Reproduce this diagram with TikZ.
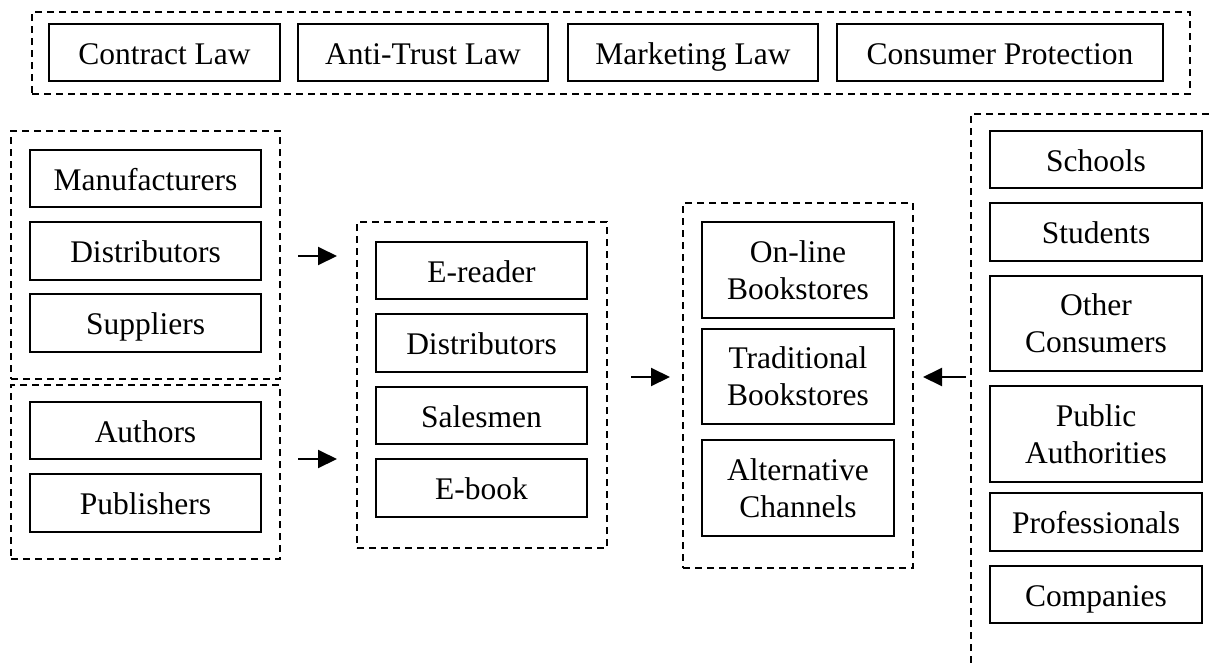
\documentclass[tikz,border=0pt]{standalone}
\usepackage{fontspec}
\setmainfont{Liberation Serif}
\usetikzlibrary{arrows.meta}
\begin{document}
\begin{tikzpicture}[x=1pt,y=-1pt,
  box/.style={draw, line width=1.6pt, align=center, inner sep=0pt,
    font=\fontsize{31.5}{37}\selectfont},
  oneline/.style={box, text height=30pt, text depth=7pt},
  grp/.style={draw, line width=1.6pt, dash pattern=on 7pt off 5pt, inner sep=0pt},
  arr/.style={line width=2pt, -{Triangle[length=19pt,width=18pt]}}]
\useasboundingbox[fill=white] (0,0) rectangle (1209,664);

% legal framework
\node[grp, minimum width=1158pt, minimum height=82pt] (law) at (611,53) {};
\node[oneline, minimum width=231pt, minimum height=57pt] (contract) at (164.5,52.5) {Contract Law};
\node[oneline, minimum width=250pt, minimum height=57pt] (antitrust) at (423,52.5) {Anti-Trust Law};
\node[oneline, minimum width=250pt, minimum height=57pt] (marketing) at (693,52.5) {Marketing Law};
\node[oneline, minimum width=326pt, minimum height=57pt] (consumer) at (1000,52.5) {Consumer Protection};

% supply side
\node[grp, minimum width=269pt, minimum height=248pt] (supply) at (145.5,255) {};
\node[oneline, minimum width=231pt, minimum height=57pt] (manuf) at (145.5,178.5) {Manufacturers};
\node[oneline, minimum width=231pt, minimum height=58pt] (distA) at (145.5,251) {Distributors};
\node[oneline, minimum width=231pt, minimum height=58pt] (suppl) at (145.5,323) {Suppliers};

\node[grp, minimum width=269pt, minimum height=174pt] (content) at (145.5,472) {};
\node[oneline, minimum width=231pt, minimum height=57pt] (authors) at (145.5,430.5) {Authors};
\node[oneline, minimum width=231pt, minimum height=58pt] (publ) at (145.5,503) {Publishers};

% intermediaries
\node[grp, minimum width=250pt, minimum height=326pt] (inter) at (482,385) {};
\node[oneline, minimum width=211pt, minimum height=57pt] (ereader) at (481.5,270.5) {E-reader};
\node[oneline, minimum width=211pt, minimum height=58pt] (distB) at (481.5,343) {Distributors};
\node[oneline, minimum width=211pt, minimum height=57pt] (sales) at (481.5,415.5) {Salesmen};
\node[oneline, minimum width=211pt, minimum height=58pt] (ebook) at (481.5,488) {E-book};

% retail channels
\node[grp, minimum width=230pt, minimum height=365pt] (retail) at (798,385.5) {};
\node[box, minimum width=192pt, minimum height=96pt] (online) at (798,270) {On-line\\Bookstores};
\node[box, minimum width=192pt, minimum height=95pt] (trad) at (798,376.5) {Traditional\\Bookstores};
\node[box, minimum width=192pt, minimum height=96pt] (alt) at (798,488) {Alternative\\Channels};

% customers
\coordinate (custTR) at (1209,114);
\coordinate (custTL) at (971,114);
\coordinate (custBL) at (971,664);
\draw[grp] (custTR) -- (custTL) -- (custBL);
\node[oneline, minimum width=212pt, minimum height=57pt] (schools) at (1096,159.5) {Schools};
\node[oneline, minimum width=212pt, minimum height=58pt] (students) at (1096,232) {Students};
\node[box, minimum width=212pt, minimum height=95pt] (other) at (1096,323.5) {Other\\Consumers};
\node[box, minimum width=212pt, minimum height=96pt] (public) at (1096,434) {Public\\Authorities};
\node[oneline, minimum width=212pt, minimum height=58pt] (prof) at (1096,522) {Professionals};
\node[oneline, minimum width=212pt, minimum height=57pt] (comp) at (1096,594.5) {Companies};

% flows
\coordinate (a1s) at (298,256);  \coordinate (a1e) at (337,256);
\coordinate (a2s) at (298,459);  \coordinate (a2e) at (337,459);
\coordinate (a3s) at (631,377);  \coordinate (a3e) at (670,377);
\coordinate (a4s) at (966,377);  \coordinate (a4e) at (923,377);
\draw[arr] (a1s) -- (a1e);
\draw[arr] (a2s) -- (a2e);
\draw[arr] (a3s) -- (a3e);
\draw[arr] (a4s) -- (a4e);
\end{tikzpicture}
\end{document}
